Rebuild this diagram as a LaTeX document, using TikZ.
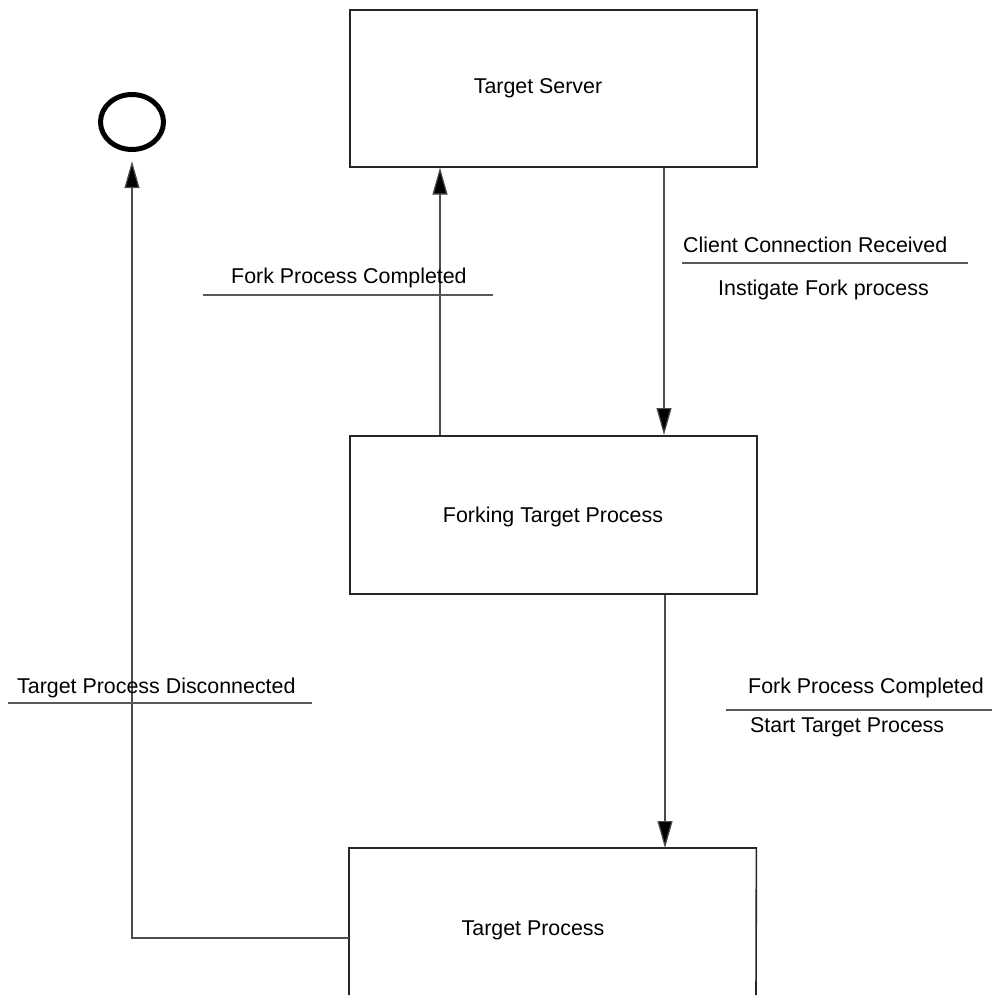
\documentclass[tikz,border=0pt]{standalone}
\usepackage{fontspec}
\setmainfont{Liberation Sans}
\usetikzlibrary{arrows.meta}
\begin{document}
\begin{tikzpicture}[x=1pt,y=-1pt,
  statebox/.style={draw=black!85, line width=1.6pt, inner sep=0pt, anchor=north west},
  txt/.style={font=\fontsize{21.4}{25}\selectfont},
  lbl/.style={font=\fontsize{21.4}{25}\selectfont, inner sep=0pt, anchor=base west},
  flow/.style={draw=black!70, line width=1.2pt, -{Triangle[length=27pt,width=15pt,fill=black]}},
  guard/.style={draw=black!65, line width=1.2pt}]
\useasboundingbox (0,0) rectangle (992,1003);

% states
\node[statebox, minimum width=407pt, minimum height=157pt] (server) at (349,9) {};
\node[txt] at (538,88) {Target Server};
\node[statebox, minimum width=407pt, minimum height=158pt] (fork) at (349,435) {};
\node[txt] at (553,517) {Forking Target Process};

% open-bottomed target process state
\coordinate (tpA) at (349,995);
\coordinate (tpB) at (756,995);
\node[inner sep=0pt, minimum width=407pt, minimum height=147pt, anchor=north west] (target) at (349,848) {};
\draw[draw=black!85, line width=1.6pt] (tpA) -- (target.north west) -- (target.north east) -- (tpB);
\node[txt] at (533,930) {Target Process};

% final state
\draw[black, line width=5pt] (132,122) ellipse [x radius=31.5, y radius=27.5];
\node[inner sep=0pt, minimum width=68pt, minimum height=60pt] (final) at (132,122) {};

% transitions
\draw[flow] (server.south -| 664,0) -- (fork.north -| 664,0);
\draw[flow] (fork.north -| 440,0) -- (server.south -| 440,0);
\draw[flow] (fork.south -| 665,0) -- (target.north -| 665,0);
\coordinate (tpL) at (349,938);
\draw[flow] (tpL) -- (132,938) -- ([yshift=-9pt]final.south);

% transition labels
\node[lbl] (l1) at (231,283) {Fork Process Completed};
\draw[guard] (203,295) -- (493,295);

\node[lbl] (l2) at (683,252) {Client Connection Received};
\draw[guard] (682,263) -- (968,263);
\node[lbl] (l3) at (718,295) {Instigate Fork process};

\node[lbl] (l4) at (17,693) {Target Process Disconnected};
\draw[guard] (8,703) -- (312,703);

\node[lbl] (l5) at (748,693) {Fork Process Completed};
\draw[guard] (726,710) -- (992,710);
\node[lbl] (l6) at (750,732) {Start Target Process};
\end{tikzpicture}
\end{document}
